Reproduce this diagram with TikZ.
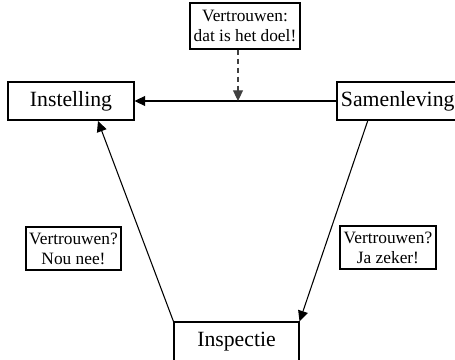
\documentclass[tikz,border=0pt]{standalone}
\usepackage{fontspec}
\setmainfont{Liberation Serif}
\usetikzlibrary{arrows.meta}

\tikzset{every picture/.style={line width=0.8pt}}
\tikzset{
  kader/.style={draw, rectangle, inner sep=0.75pt, align=center},
  groot/.style={font=\fontsize{16.3}{19}\selectfont},
  klein/.style={font=\fontsize{13}{15}\selectfont},
  pijl/.style={-{Triangle[length=8pt,width=7.5pt]}},
}

\begin{document}
\begin{tikzpicture}[x=0.75pt,y=0.75pt,yscale=-1,xscale=1]
\useasboundingbox (0,0) rectangle (455,360);

%Shape: Rectangle [id:inst] 
\node [kader, groot, minimum width=94.5pt, minimum height=28.5pt] (inst) at (71,101) {Instelling};
%Shape: Rectangle [id:sam] 
\node [kader, groot, inner xsep=3pt, text width=87.75pt, align=left, minimum height=28.5pt] (sam) at (399.5,101) {Samenleving};
%Shape: Rectangle [id:insp] 
\node [kader, groot, minimum width=93.75pt, minimum height=30pt] (insp) at (236.5,342) {Inspectie};

% Text Node
\node [kader, klein, minimum width=82.5pt, minimum height=34.5pt] (doel) at (245,26) {Vertrouwen:\\dat is het doel!};
% Text Node
\node [kader, klein, minimum width=71.25pt, minimum height=32.25pt] (nee) at (73.5,248.5) {Vertrouwen?\\Nou nee!};
% Text Node
\node [kader, klein, minimum width=72pt, minimum height=32.25pt] (zeker) at (388,247.5) {Vertrouwen?\\Ja zeker!};

\coordinate (hit) at (238,101);
\coordinate (instin) at (98,121);
\coordinate (samout) at (368,120);

%Straight Lines [id:sam-inst] 
\draw [pijl]  (sam.west) -- (inst.east) ;
%Straight Lines [id:doel] 
\draw [pijl, black!75, dash pattern={on 3.75pt off 3pt}]  (doel.south -| hit) -- (hit) ;
%Straight Lines [id:insp-inst] 
\draw [pijl]  (insp.north west) -- (instin) ;
%Straight Lines [id:sam-insp] 
\draw [pijl]  (samout) -- (insp.north east) ;

\end{tikzpicture}
\end{document}
